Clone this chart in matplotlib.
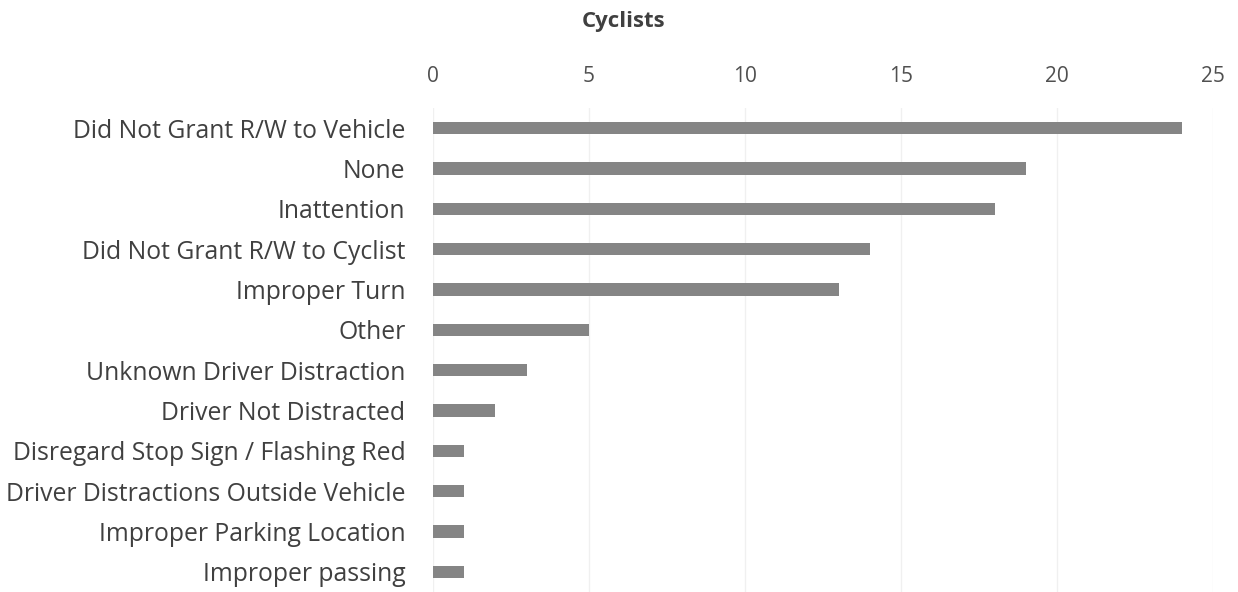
import matplotlib
matplotlib.use("Agg")
import matplotlib.pyplot as plt

plt.rcParams['font.family'] = ['Open Sans', 'DejaVu Sans']

# causes, top to bottom as in the chart
causes = ["Did Not Grant R/W to Vehicle", "None", "Inattention",
          "Did Not Grant R/W to Cyclist", "Improper Turn", "Other",
          "Unknown Driver Distraction", "Driver Not Distracted",
          "Disregard Stop Sign / Flashing Red",
          "Driver Distractions Outside Vehicle",
          "Improper Parking Location", "Improper passing"]
cyclists = [24, 19, 18, 14, 13, 5, 3, 2, 1, 1, 1, 1]
xticks = [0, 5, 10, 15, 20, 25]

fig = plt.figure(figsize=(12.38, 5.92), dpi=100)
ax = fig.add_axes([0.3498, 0.0, 0.630, 0.8176])

pos = list(range(len(causes)))
ax.barh(pos, cyclists, height=0.3, color="#858585", zorder=2)
ax.set_ylim(len(causes) - 0.5, -0.5)
ax.set_xlim(0, 25)
ax.set_xticks(xticks)
ax.set_yticks(pos)
ax.set_yticklabels(causes)

ax.xaxis.tick_top()
ax.tick_params(axis="x", length=0, pad=15, labelsize=15, colors="#505050")
ax.tick_params(axis="y", length=0, pad=20, labelsize=17.8, colors="#404040")
ax.grid(axis="x", color="#f0f0f0", linewidth=1, zorder=0)
for s in ax.spines.values():
    s.set_visible(False)

fig.text(0.504, 0.963, "Cyclists", ha="center", va="center",
         fontsize=16, fontweight="bold", color="#404040")

fig.savefig("out.png", dpi=100)
